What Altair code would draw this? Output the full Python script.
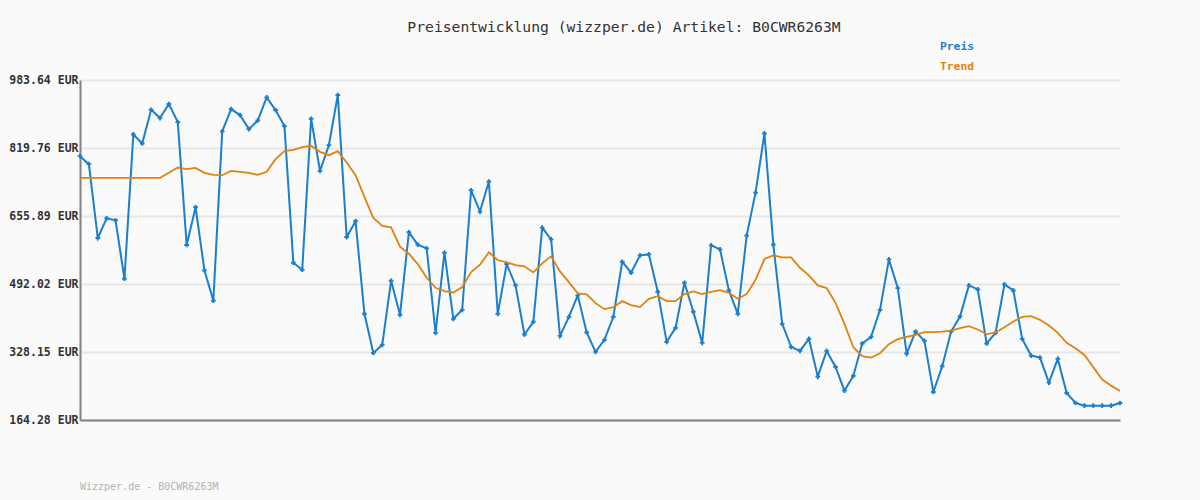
import altair as alt
import pandas as pd

preis = [800.1, 780.8, 602.9, 650.4, 645.6, 504.7, 852.4, 830.7, 912.0, 891.9,
         925.7, 882.2, 586.0, 677.0, 524.8, 451.6, 859.7, 913.6, 899.1, 865.3,
         886.2, 941.8, 911.2, 872.5, 543.3, 526.4, 890.2, 764.7, 826.7, 947.4,
         605.3, 643.1, 420.2, 326.0, 345.3, 499.9, 417.8, 616.6, 586.8, 577.9,
         374.3, 567.5, 408.1, 429.8, 718.0, 666.5, 739.0, 420.2, 540.1, 488.6,
         370.3, 400.9, 627.8, 599.7, 367.0, 412.9, 464.4, 375.1, 328.4, 357.4,
         412.9, 545.7, 519.2, 561.0, 563.4, 473.3, 352.6, 386.4, 495.0, 425.0,
         350.1, 585.2, 575.5, 476.5, 420.2, 608.5, 712.3, 854.8, 586.8, 396.0,
         340.5, 330.8, 359.8, 268.9, 330.8, 292.2, 235.1, 270.5, 348.6, 364.6,
         429.8, 551.4, 482.2, 324.4, 377.5, 355.0, 231.8, 293.8, 377.5, 413.7,
         488.6, 478.9, 348.6, 374.3, 491.0, 476.5, 359.8, 319.5, 314.7, 254.3,
         311.5, 229.4, 205.3, 198.8, 198.8, 198.8, 198.8, 205.3]

trend = [747.8, 747.8, 747.8, 747.8, 747.8, 747.8, 747.8, 747.8, 747.8, 747.8,
         759.9, 772.7, 768.7, 771.9, 759.9, 755.0, 754.2, 764.7, 762.3, 759.9,
         755.0, 762.3, 792.8, 812.2, 815.4, 821.8, 825.1, 810.5, 802.5, 812.2,
         784.8, 754.2, 701.9, 651.2, 631.9, 628.6, 582.0, 565.1, 540.1, 507.1,
         483.0, 474.9, 471.6, 484.6, 520.8, 538.5, 568.3, 549.8, 544.1, 537.7,
         534.5, 520.0, 541.7, 558.6, 522.4, 496.6, 469.3, 466.8, 445.9, 431.4,
         436.3, 450.7, 441.1, 436.3, 456.4, 462.8, 450.7, 450.7, 467.6, 474.1,
         467.6, 473.3, 477.3, 470.9, 456.4, 467.6, 502.3, 552.2, 561.0, 556.2,
         556.2, 531.2, 512.7, 488.6, 482.2, 446.7, 396.0, 339.7, 318.0, 314.7,
         325.2, 347.0, 359.0, 364.6, 369.4, 375.9, 375.9, 377.5, 379.9, 385.5,
         390.4, 382.3, 371.1, 375.1, 388.0, 401.6, 412.9, 414.5, 405.7, 392.0,
         374.3, 350.1, 337.2, 321.1, 291.4, 261.6, 247.1, 234.2]

y_ticks = [164.28, 328.15, 492.02, 655.89, 819.76, 983.64]
series_names = ["Preis", "Trend"]
title_text = "Preisentwicklung (wizzper.de) Artikel: B0CWR6263M"
footer_text = "Wizzper.de - B0CWR6263M"

BLUE = "#1a7fce"
ORANGE = "#e0820f"
FONT = "DejaVu Sans Mono"

n = len(preis)
df = pd.DataFrame({"i": list(range(n)), "Preis": preis, "Trend": trend})

x_enc = alt.X("i:Q",
              scale=alt.Scale(domain=[0, n - 1], nice=False, zero=False),
              axis=alt.Axis(title=None, labels=False, ticks=False, grid=False,
                            domainColor="#808080", domainWidth=2))
y_axis = alt.Axis(title=None, values=y_ticks, format=".2f",
                  labelExpr="datum.label + ' EUR'", ticks=False,
                  labelFont=FONT, labelFontSize=11.5, labelFontWeight="bold",
                  labelColor="#333333", labelPadding=2,
                  grid=True, gridColor="#e6e6e6", gridWidth=2,
                  domainColor="#808080", domainWidth=2)
y_scale = alt.Scale(domain=[y_ticks[0], y_ticks[-1]], nice=False, zero=False)

base = alt.Chart(df)

preis_line = base.mark_line(color=BLUE, strokeWidth=2).encode(
    x=x_enc, y=alt.Y("Preis:Q", scale=y_scale, axis=y_axis))
preis_pts = base.mark_point(color=BLUE, shape="cross", size=22, filled=True, opacity=1).encode(
    x="i:Q", y="Preis:Q")
trend_line = base.mark_line(color=ORANGE, strokeWidth=1.8).encode(
    x="i:Q", y="Trend:Q")

title_mark = alt.Chart(pd.DataFrame({"t": [title_text]})).mark_text(
    align="center", baseline="middle", font=FONT, fontSize=14.7,
    color="#333333").encode(text="t:N", x=alt.value(544), y=alt.value(-52))
leg_preis = alt.Chart(pd.DataFrame({"t": [series_names[0]]})).mark_text(
    align="left", baseline="middle", font=FONT, fontSize=11.3,
    fontWeight="bold", color=BLUE).encode(text="t:N", x=alt.value(860), y=alt.value(-33))
leg_trend = alt.Chart(pd.DataFrame({"t": [series_names[1]]})).mark_text(
    align="left", baseline="middle", font=FONT, fontSize=11.3,
    fontWeight="bold", color=ORANGE).encode(text="t:N", x=alt.value(860), y=alt.value(-13))
footer = alt.Chart(pd.DataFrame({"t": [footer_text]})).mark_text(
    align="left", baseline="middle", font=FONT, fontSize=10,
    color="#b3b3b3").encode(text="t:N", x=alt.value(0), y=alt.value(407))

chart = alt.layer(preis_line, preis_pts, trend_line, title_mark, leg_preis, leg_trend, footer).properties(
    width=1040, height=340,
    autosize=alt.AutoSizeParams(type="none"),
    padding={"left": 80, "top": 80, "right": 80, "bottom": 80},
    background="#fafafa",
).configure_view(stroke=None)

chart.save("out.html", embed_options={"renderer": "svg", "actions": False})
